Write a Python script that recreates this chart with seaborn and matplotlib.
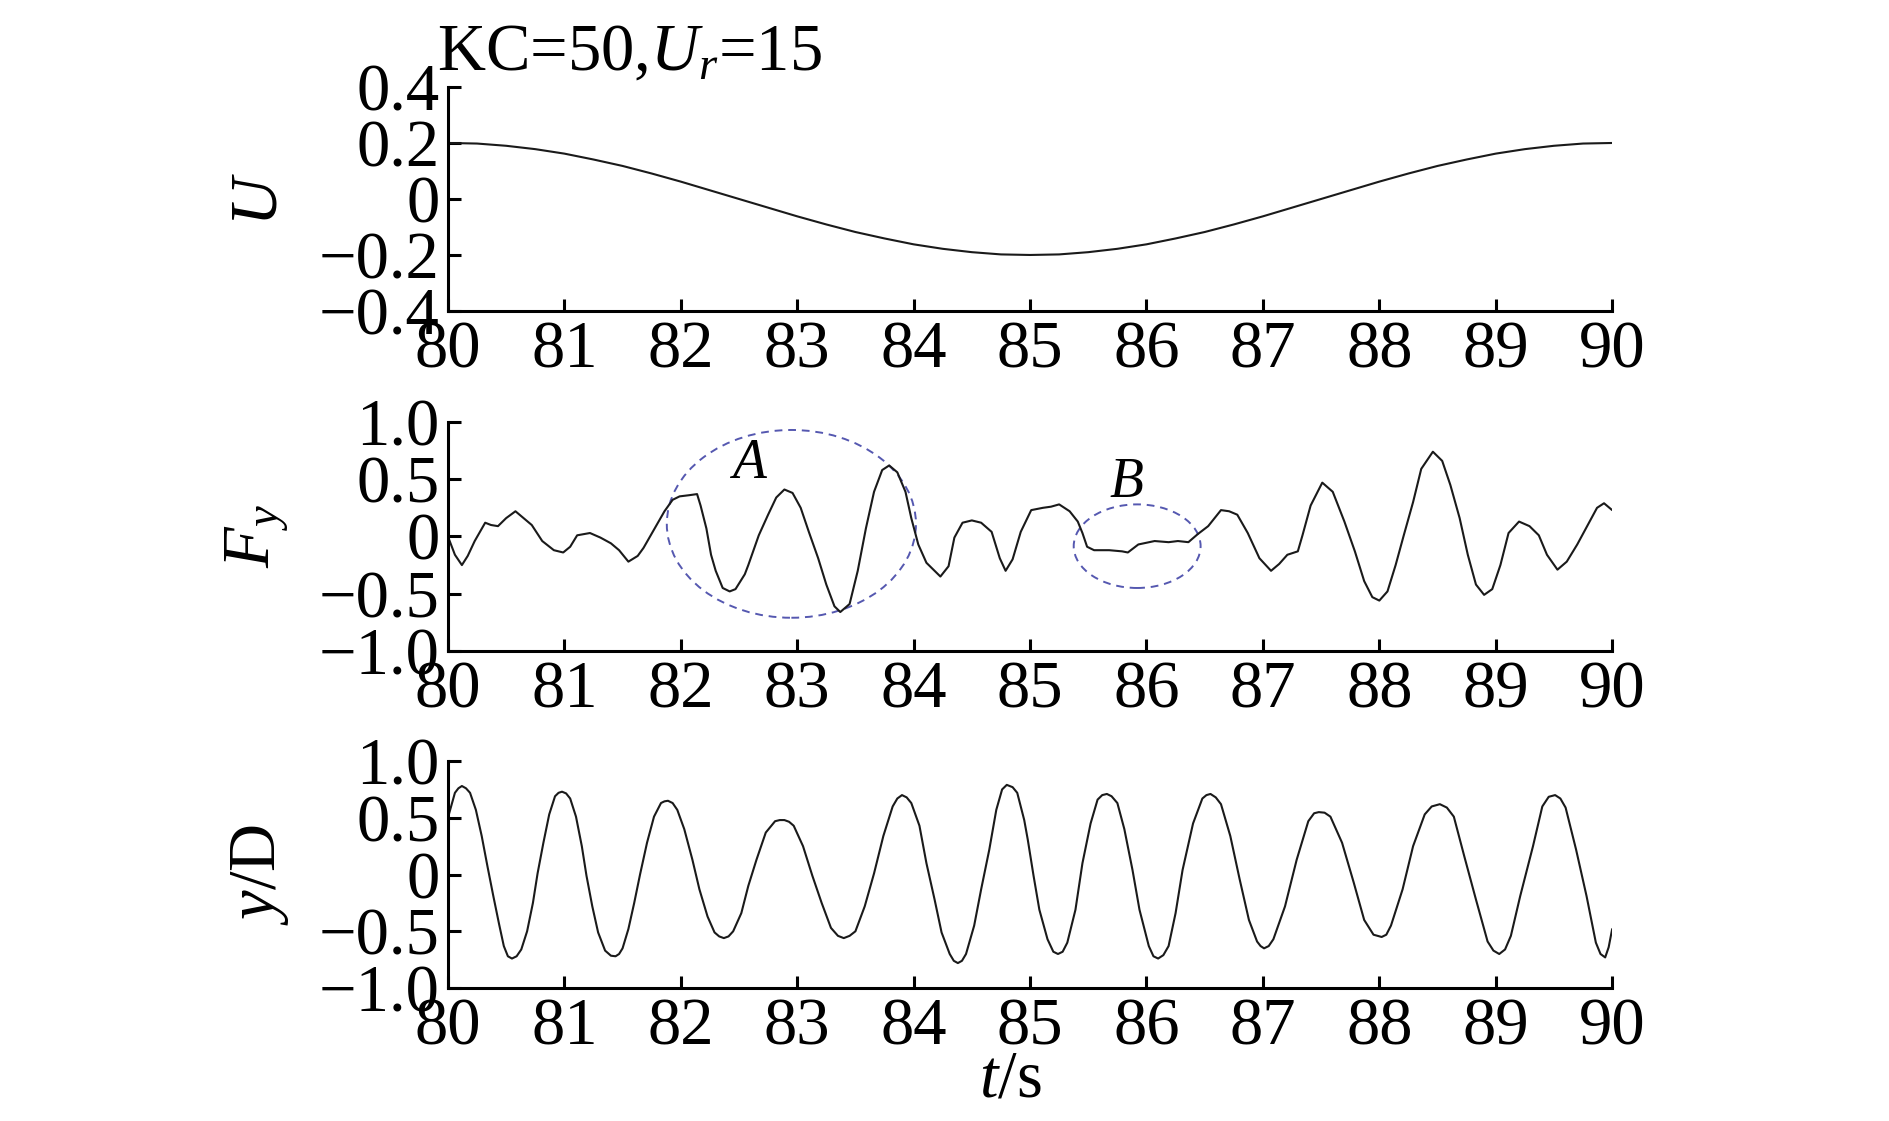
import numpy as np
import pandas as pd
import seaborn as sns
import matplotlib
matplotlib.use('Agg')
import matplotlib.pyplot as plt
from matplotlib.patches import Ellipse
from matplotlib.ticker import FixedLocator, FuncFormatter

# U(t) (passo 0.25 s)
t_u = [80 + 0.25 * i for i in range(41)]
u_val = [0.200, 0.198, 0.190, 0.178, 0.162, 0.141, 0.118, 0.091, 0.062, 0.031,
         0.000, -0.031, -0.062, -0.091, -0.118, -0.141, -0.162, -0.178, -0.190, -0.198,
         -0.200, -0.198, -0.190, -0.178, -0.162, -0.141, -0.118, -0.091, -0.062, -0.031,
         0.000, 0.031, 0.062, 0.091, 0.118, 0.141, 0.162, 0.178, 0.190, 0.198, 0.200]

# Fy(t)
t_fy = [80.00, 80.06, 80.12, 80.17, 80.23, 80.32, 80.37, 80.43, 80.50, 80.58, 80.65, 80.72,
        80.81, 80.91, 80.99, 81.05, 81.11, 81.22, 81.31, 81.40, 81.47, 81.55, 81.63, 81.68,
        81.77, 81.86, 81.93, 81.99, 82.07, 82.14, 82.17, 82.22, 82.26, 82.30, 82.36, 82.42,
        82.47, 82.55, 82.58, 82.67, 82.75, 82.82, 82.89, 82.96, 83.03, 83.10, 83.18, 83.25,
        83.32, 83.37, 83.45, 83.52, 83.59, 83.66, 83.73, 83.79, 83.86, 83.93, 83.98, 84.04,
        84.11, 84.23, 84.30, 84.35, 84.42, 84.50, 84.58, 84.67, 84.74, 84.79, 84.85, 84.92,
        85.01, 85.11, 85.18, 85.25, 85.34, 85.41, 85.45, 85.49, 85.55, 85.68, 85.79, 85.84,
        85.93, 86.07, 86.19, 86.27, 86.36, 86.44, 86.53, 86.64, 86.71, 86.78, 86.87, 86.97,
        87.07, 87.14, 87.21, 87.30, 87.34, 87.41, 87.51, 87.60, 87.70, 87.79, 87.87, 87.94,
        88.00, 88.07, 88.14, 88.21, 88.29, 88.36, 88.46, 88.54, 88.61, 88.69, 88.76, 88.83,
        88.90, 88.97, 89.04, 89.11, 89.20, 89.29, 89.37, 89.44, 89.53, 89.61, 89.70, 89.79,
        89.87, 89.93, 90.00]
fy_val = [0.00, -0.16, -0.25, -0.17, -0.04, 0.12, 0.10, 0.09, 0.16, 0.22, 0.16, 0.10,
          -0.04, -0.12, -0.14, -0.09, 0.01, 0.03, -0.01, -0.06, -0.12, -0.22, -0.17, -0.10,
          0.06, 0.22, 0.32, 0.35, 0.36, 0.37, 0.27, 0.07, -0.16, -0.30, -0.45, -0.48,
          -0.46, -0.33, -0.25, 0.01, 0.19, 0.34, 0.41, 0.38, 0.25, 0.04, -0.19, -0.42,
          -0.61, -0.66, -0.59, -0.30, 0.07, 0.39, 0.58, 0.62, 0.56, 0.39, 0.16, -0.07,
          -0.23, -0.35, -0.26, -0.01, 0.12, 0.14, 0.12, 0.04, -0.19, -0.30, -0.20, 0.04,
          0.23, 0.25, 0.26, 0.28, 0.22, 0.13, 0.03, -0.09, -0.12, -0.12, -0.13, -0.14,
          -0.07, -0.04, -0.05, -0.04, -0.05, 0.02, 0.09, 0.23, 0.22, 0.19, 0.03, -0.19,
          -0.30, -0.24, -0.16, -0.13, 0.01, 0.27, 0.47, 0.39, 0.13, -0.13, -0.39, -0.53,
          -0.56, -0.48, -0.25, 0.01, 0.30, 0.59, 0.74, 0.66, 0.45, 0.16, -0.16, -0.42,
          -0.51, -0.46, -0.25, 0.03, 0.13, 0.09, 0.01, -0.16, -0.29, -0.22, -0.07, 0.10,
          0.25, 0.29, 0.23]

# y/D(t)
t_yd = [80.00, 80.06, 80.09, 80.12, 80.155, 80.19, 80.24, 80.29, 80.34, 80.39, 80.44, 80.48,
        80.515, 80.55, 80.59, 80.63, 80.68, 80.73, 80.77, 80.82, 80.87, 80.92, 80.95, 80.98,
        81.015, 81.05, 81.10, 81.15, 81.19, 81.24, 81.29, 81.35, 81.40, 81.44, 81.47, 81.50,
        81.55, 81.60, 81.65, 81.71, 81.77, 81.83, 81.86, 81.89, 81.93, 81.97, 82.03, 82.10,
        82.16, 82.23, 82.29, 82.33, 82.37, 82.41, 82.45, 82.52, 82.58, 82.65, 82.73, 82.81,
        82.85, 82.89, 82.93, 82.97, 83.05, 83.13, 83.21, 83.29, 83.35, 83.40, 83.45, 83.50,
        83.58, 83.66, 83.74, 83.82, 83.86, 83.90, 83.94, 83.98, 84.05, 84.11, 84.18, 84.24,
        84.31, 84.345, 84.38, 84.415, 84.45, 84.52, 84.58, 84.65, 84.71, 84.76, 84.80, 84.85,
        84.89, 84.95, 84.98, 85.03, 85.08, 85.15, 85.20, 85.24, 85.28, 85.32, 85.39, 85.45,
        85.52, 85.58, 85.62, 85.66, 85.70, 85.75, 85.81, 85.88, 85.94, 86.02, 86.06, 86.10,
        86.145, 86.19, 86.25, 86.31, 86.40, 86.48, 86.515, 86.55, 86.595, 86.64, 86.72, 86.80,
        86.88, 86.95, 86.98, 87.01, 87.05, 87.09, 87.19, 87.29, 87.39, 87.44, 87.48, 87.53,
        87.58, 87.68, 87.78, 87.87, 87.95, 88.02, 88.06, 88.10, 88.20, 88.29, 88.39, 88.45,
        88.52, 88.58, 88.64, 88.73, 88.83, 88.93, 88.98, 89.03, 89.08, 89.13, 89.21, 89.32,
        89.40, 89.455, 89.51, 89.555, 89.60, 89.69, 89.78, 89.86, 89.90, 89.94, 89.97, 90.00]
yd_val = [0.50, 0.72, 0.76, 0.78, 0.76, 0.72, 0.57, 0.34, 0.07, -0.19, -0.44, -0.63,
          -0.72, -0.74, -0.72, -0.66, -0.50, -0.25, 0.01, 0.28, 0.53, 0.69, 0.72, 0.73,
          0.715, 0.67, 0.51, 0.25, -0.01, -0.28, -0.51, -0.67, -0.715, -0.72, -0.70, -0.65,
          -0.48, -0.25, 0.00, 0.28, 0.51, 0.63, 0.645, 0.65, 0.63, 0.57, 0.40, 0.13,
          -0.13, -0.37, -0.51, -0.545, -0.56, -0.545, -0.50, -0.34, -0.10, 0.13, 0.37, 0.47,
          0.48, 0.48, 0.465, 0.43, 0.25, -0.01, -0.25, -0.47, -0.54, -0.56, -0.54, -0.50,
          -0.28, 0.01, 0.34, 0.60, 0.67, 0.70, 0.68, 0.63, 0.43, 0.10, -0.22, -0.51,
          -0.70, -0.76, -0.78, -0.76, -0.70, -0.45, -0.13, 0.22, 0.57, 0.75, 0.79, 0.77,
          0.72, 0.48, 0.31, -0.01, -0.31, -0.57, -0.68, -0.70, -0.68, -0.60, -0.31, 0.10,
          0.45, 0.66, 0.70, 0.71, 0.69, 0.63, 0.40, 0.04, -0.31, -0.63, -0.72, -0.74,
          -0.71, -0.63, -0.34, 0.04, 0.45, 0.67, 0.70, 0.71, 0.68, 0.62, 0.34, -0.04,
          -0.40, -0.59, -0.63, -0.65, -0.63, -0.57, -0.28, 0.13, 0.47, 0.54, 0.55, 0.545,
          0.51, 0.28, -0.07, -0.40, -0.53, -0.55, -0.53, -0.45, -0.13, 0.25, 0.53, 0.60,
          0.62, 0.59, 0.51, 0.16, -0.22, -0.59, -0.67, -0.70, -0.66, -0.54, -0.19, 0.25,
          0.60, 0.685, 0.70, 0.67, 0.59, 0.22, -0.19, -0.60, -0.70, -0.73, -0.64, -0.48]

xticks = list(range(80, 91))
u_ticks = [-0.4, -0.2, 0, 0.2, 0.4]
f_ticks = [-1.0, -0.5, 0, 0.5, 1.0]

sns.set_style('ticks')
plt.rcParams['font.family'] = ['Liberation Serif', 'DejaVu Serif']
plt.rcParams['mathtext.fontset'] = 'custom'
plt.rcParams['mathtext.rm'] = 'Liberation Serif'
plt.rcParams['mathtext.it'] = 'Liberation Serif:italic'
plt.rcParams['text.color'] = 'black'
plt.rcParams['axes.labelcolor'] = 'black'

FS = 48


def fmt(v, pos):
    if abs(v) < 1e-9:
        return '0'
    return f'{v:.1f}'.replace('-', '\u2212')


fig = plt.figure(figsize=(18.9, 11.21), dpi=100)
ax1 = fig.add_axes([0.237, 0.7226, 0.616, 0.1998])
ax2 = fig.add_axes([0.237, 0.4193, 0.616, 0.2043])
ax3 = fig.add_axes([0.237, 0.1186, 0.616, 0.2025])

sns.lineplot(x=t_u, y=u_val, ax=ax1, color='#1a1a1a', linewidth=1.5)
sns.lineplot(x=t_fy, y=fy_val, ax=ax2, color='#1a1a1a', linewidth=1.5)
sns.lineplot(x=t_yd, y=yd_val, ax=ax3, color='#1a1a1a', linewidth=1.5)

for ax, yt, ylab in [(ax1, u_ticks, r'$\mathit{U}$'),
                     (ax2, f_ticks, r'$\mathit{F}_{\mathit{y}}$'),
                     (ax3, f_ticks, r'$\mathit{y}$/D')]:
    ax.set_xlim(80, 90)
    ax.set_ylim(yt[0], yt[-1])
    ax.xaxis.set_major_locator(FixedLocator(xticks))
    ax.yaxis.set_major_locator(FixedLocator(yt))
    ax.yaxis.set_major_formatter(FuncFormatter(fmt))
    sns.despine(ax=ax)
    for s in ['left', 'bottom']:
        ax.spines[s].set_linewidth(2.2)
        ax.spines[s].set_color('black')
    ax.tick_params(direction='in', length=9, width=2.2, colors='black',
                   labelcolor='black', labelsize=FS)
    ax.tick_params(axis='y', pad=6)
    ax.tick_params(axis='x', pad=7)
    ax.set_xlabel('')
    ax.set_ylabel(ylab, fontsize=FS, color='black')
    ax.yaxis.set_label_coords(-0.135, 0.5)

ax3.set_xlabel(r'$\mathit{t}$/s', fontsize=FS, color='black')
ax3.xaxis.set_label_coords(0.483, -0.27)

# elipses A e B
cor_elipse = '#5558b0'
ax2.add_patch(Ellipse((82.95, 0.11), 2.14, 1.64, fill=False, ec=cor_elipse,
                      lw=1.4, ls=(0, (4, 3))))
ax2.add_patch(Ellipse((85.92, -0.085), 1.09, 0.73, fill=False, ec=cor_elipse,
                      lw=1.4, ls=(0, (4, 3))))
ax2.text(82.59, 0.63, 'A', fontsize=40, fontstyle='italic', ha='center', va='center',
         color='black')
ax2.text(85.83, 0.47, 'B', fontsize=40, fontstyle='italic', ha='center', va='center',
         color='black')

fig.text(0.231, 1 - 70 / 1121, r'KC=50,$\mathit{U}_{\mathit{r}}$=15', fontsize=FS,
         ha='left', va='baseline', color='black')

plt.savefig('out.png', dpi=100)
